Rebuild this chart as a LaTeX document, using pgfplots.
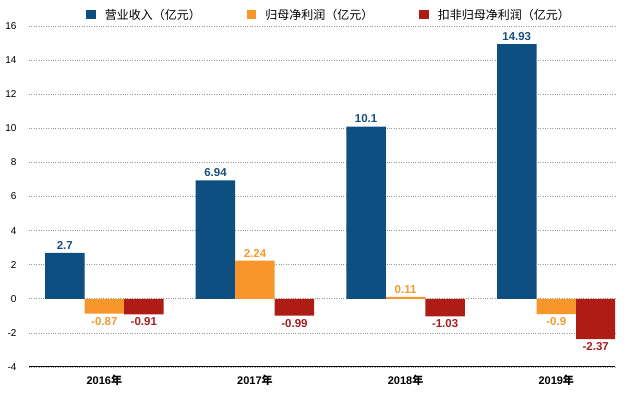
\documentclass[border=0pt]{standalone}
\usepackage{fontspec}
\setmainfont{Liberation Sans}
\newfontfamily\cjk{Noto Sans CJK SC}
\usepackage{pgfplots}
\pgfplotsset{compat=1.18}
\definecolor{cblue}{HTML}{0D4F80}
\definecolor{corange}{HTML}{F7962B}
\definecolor{cred}{HTML}{AE1C16}
\definecolor{lblue}{HTML}{1A4E7A}
\definecolor{lorange}{HTML}{F09A30}
\definecolor{lred}{HTML}{A51E1E}
\begin{document}
\begin{tikzpicture}
\useasboundingbox (0,0) rectangle (640pt,393pt);
\begin{axis}[
  at={(29pt,26pt)}, anchor=south west,
  scale only axis, width=586pt, height=341pt,
  xmin=-0.5, xmax=3.39, ymin=-4, ymax=16,
  ytick={-4,-2,...,16},
  xtick={0,1,2,3},
  xticklabels={2016{\cjk 年},2017{\cjk 年},2018{\cjk 年},2019{\cjk 年}},
  /pgf/number format/assume math mode=true,
  ybar=0pt, bar width=39.5pt,
  axis x line*=bottom, axis y line*=left,
  y axis line style={draw=none},
  x axis line style={black, line width=1pt},
  major tick length=0pt,
  ymajorgrids, grid style={dotted, gray!80, line width=0.7pt},
  yticklabel style={font=\fontsize{10}{12}\selectfont, xshift=-9pt},
  xticklabel style={font=\fontsize{11}{13}\selectfont\bfseries, yshift=-5pt},
  nodes near coords={\pgfmathprintnumber[fixed,precision=2]{\pgfplotspointmeta}},
  nodes near coords align=vertical,
  legend style={at={(0.5,1)}, anchor=south, xshift=7pt, yshift=1pt, draw=none, fill=none,
    legend columns=-1, font=\fontsize{12}{14}\selectfont\cjk,
    /tikz/every even column/.append style={column sep=44pt},
    /tikz/every odd column/.append style={column sep=7pt}},
  legend cell align=left,
  legend image code/.code={\path[#1, draw=none] (0pt,-4.5pt) rectangle (9.5pt,5pt);},
]
\addplot[fill=cblue, draw=none, nodes near coords style={text=lblue, font=\fontsize{11.5}{13}\selectfont\bfseries}]
  coordinates {(0,2.7) (1,6.94) (2,10.1) (3,14.93)};
\addplot[fill=corange, draw=none, nodes near coords style={text=lorange, font=\fontsize{11.5}{13}\selectfont\bfseries}]
  coordinates {(0,-0.87) (1,2.24) (2,0.11) (3,-0.9)};
\addplot[fill=cred, draw=none, nodes near coords style={text=lred, font=\fontsize{11.5}{13}\selectfont\bfseries}]
  coordinates {(0,-0.91) (1,-0.99) (2,-1.03) (3,-2.37)};
\legend{营业收入（亿元）,归母净利润（亿元）,扣非归母净利润（亿元）}
\end{axis}
\end{tikzpicture}
\end{document}
